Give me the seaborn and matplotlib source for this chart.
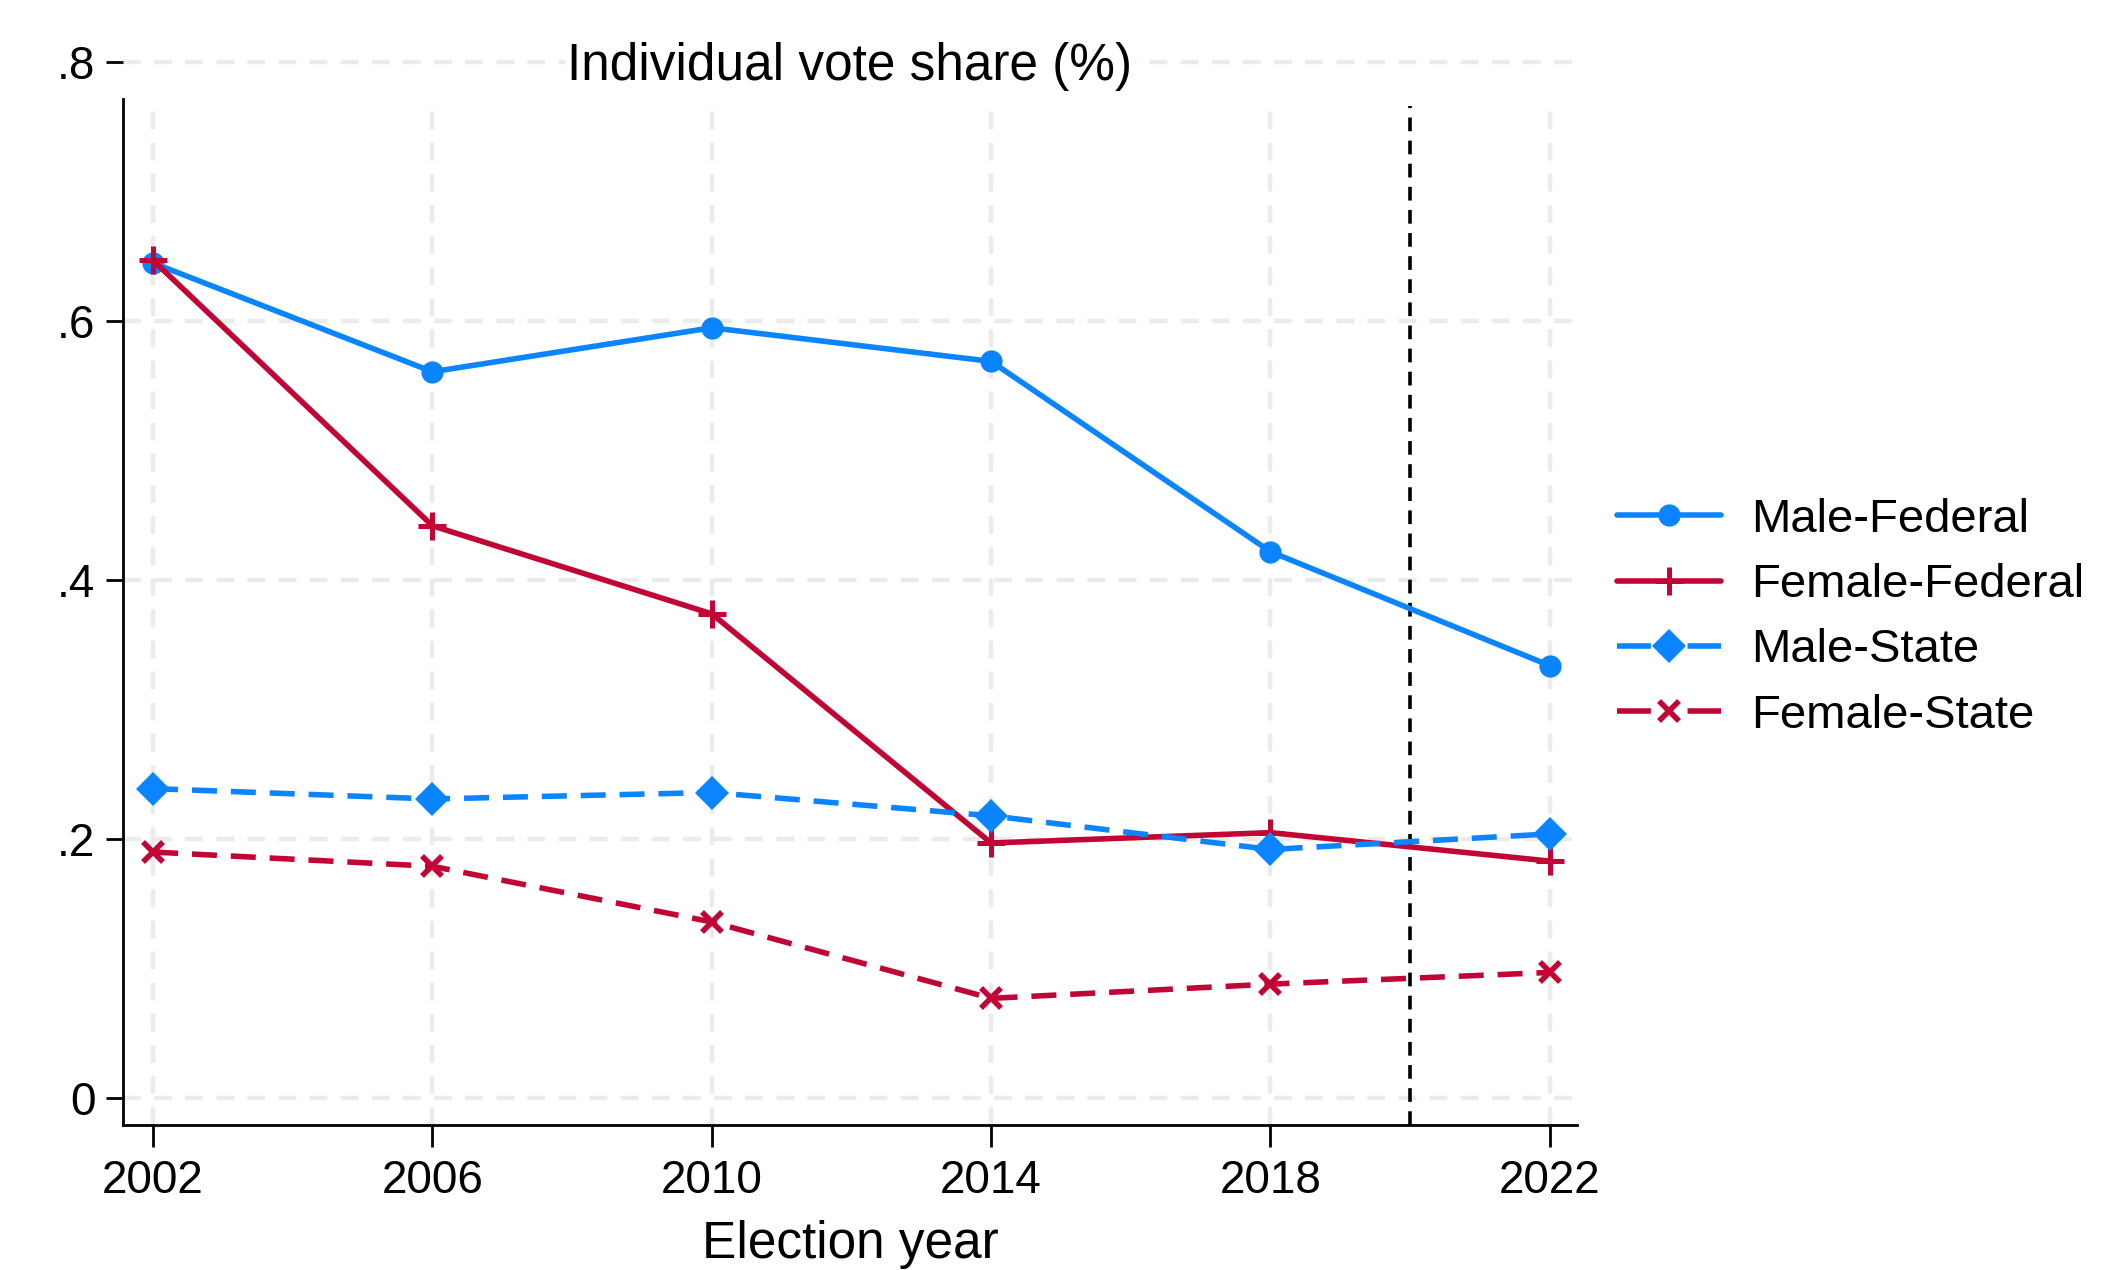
import matplotlib
matplotlib.use("Agg")
import matplotlib.pyplot as plt
import seaborn as sns
import pandas as pd
from matplotlib.lines import Line2D

years = [2002, 2006, 2010, 2014, 2018, 2022]
male_federal = [0.645, 0.561, 0.595, 0.569, 0.422, 0.334]
female_federal = [0.647, 0.442, 0.374, 0.197, 0.205, 0.183]
male_state = [0.239, 0.231, 0.236, 0.218, 0.192, 0.204]
female_state = [0.190, 0.179, 0.136, 0.077, 0.088, 0.097]
series_names = ["Male-Federal", "Female-Federal", "Male-State", "Female-State"]
y_ticks = [0, 0.2, 0.4, 0.6, 0.8]
y_ticklabels = ["0", ".2", ".4", ".6", ".8"]
cutoff_year = 2020

sns.set_style("white")
plt.rcParams["font.family"] = ["Liberation Sans", "DejaVu Sans"]
plt.rcParams["text.color"] = "black"
plt.rcParams["xtick.color"] = "black"
plt.rcParams["ytick.color"] = "black"
plt.rcParams["axes.labelcolor"] = "black"

BLUE = "#0a84ff"
RED = "#c10534"
LW = 2.0

styles = {
    "Male-Federal": dict(color=BLUE, marker="o", ms=8, dashes=None, mew=0),
    "Female-Federal": dict(color=RED, marker="+", ms=10, dashes=None, mew=1.8),
    "Male-State": dict(color=BLUE, marker="D", ms=8.5, dashes=(4.5, 2.5), mew=0),
    "Female-State": dict(color=RED, marker="x", ms=7, dashes=(4.5, 2.5), mew=2.0),
}
values = dict(zip(series_names, [male_federal, female_federal, male_state, female_state]))

fig = plt.figure(figsize=(10.63, 6.35), dpi=200)
ymin, ymax = -0.021, 0.81
ax = fig.add_axes([0.0579, 0.1140, 0.7418 - 0.0579, 0.9611 - 0.1140])
ax.set_xlim(2001.57, 2022.39)
ax.set_ylim(ymin, ymax)

spine_top = 0.772
frac_top = (spine_top - ymin) / (ymax - ymin)
frac_cut = (0.766 - ymin) / (ymax - ymin)

# grid
for yv in y_ticks:
    ax.axhline(yv, color="#ebebeb", lw=1.6, dashes=(4, 3), zorder=0)
for xv in years:
    ax.axvline(xv, ymin=0, ymax=frac_top, color="#ebebeb", lw=1.6, dashes=(4, 3), zorder=0)

ax.axvline(cutoff_year, ymin=0, ymax=frac_cut, color="black", lw=1.3, dashes=(3.8, 2.6), zorder=1)

handles = []
for name in series_names:
    st = styles[name]
    df = pd.DataFrame({"year": years, "share": values[name]})
    kw = dict(color=st["color"], marker=st["marker"], markersize=st["ms"], lw=LW,
              markeredgewidth=st["mew"], markeredgecolor=st["color"])
    if st["dashes"] is not None:
        kw["dashes"] = st["dashes"]
    sns.lineplot(data=df, x="year", y="share", ax=ax, legend=False, zorder=3, **kw)
    h = Line2D([], [], color=st["color"], marker=st["marker"], markersize=st["ms"], lw=LW,
               markeredgewidth=st["mew"], markeredgecolor=st["color"])
    if st["dashes"] is not None:
        h.set_dashes((6.1, 6.6))
    handles.append(h)

ax.set_xticks(years)
ax.set_xticklabels([str(y) for y in years])
ax.set_yticks(y_ticks)
ax.set_yticklabels(y_ticklabels)
ax.tick_params(axis="x", bottom=True, direction="out", length=8, width=1, color="black",
               labelcolor="black", labelsize=16.5, pad=4)
ax.tick_params(axis="y", left=True, direction="out", length=6, width=1, color="black",
               labelcolor="black", labelsize=16.5, pad=4)
ax.set_xlabel("")
ax.set_ylabel("")

for s in ["top", "right"]:
    ax.spines[s].set_visible(False)
ax.spines["left"].set_bounds(ymin, spine_top)
ax.spines["left"].set_linewidth(1.0)
ax.spines["bottom"].set_linewidth(1.0)
ax.spines["left"].set_color("black")
ax.spines["bottom"].set_color("black")

fig.text(0.3998, 0.948, "Individual vote share (%)", ha="center", va="center", fontsize=18.5,
         color="black", bbox=dict(facecolor="white", edgecolor="none", pad=1))
fig.text(0.3998, 0.020, "Election year", ha="center", va="center", fontsize=18.5, color="black")

leg = fig.legend(handles, series_names, loc="center left", bbox_to_anchor=(0.7606, 0.5135),
                 frameon=False, fontsize=17, handlelength=2.2, handletextpad=0.65,
                 labelspacing=0.45, borderpad=0, borderaxespad=0, numpoints=1)
for t in leg.get_texts():
    t.set_color("black")

fig.savefig("out.png", dpi=200)
